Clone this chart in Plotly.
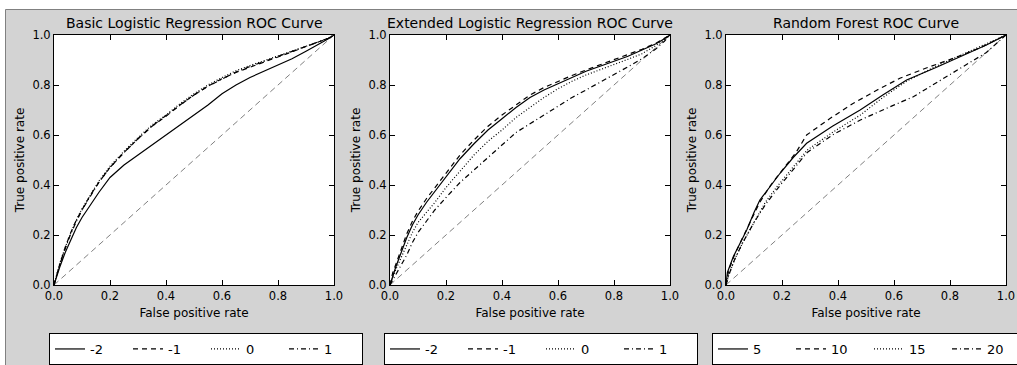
import plotly.graph_objects as go

# ---------------- data ----------------
titles = ["Basic Logistic Regression ROC Curve",
          "Extended Logistic Regression ROC Curve",
          "Random Forest ROC Curve"]
x_label = "False positive rate"
y_label = "True positive rate"
tick_vals = [0.0, 0.2, 0.4, 0.6, 0.8, 1.0]

basic_labels = ["-2", "-1", "0", "1"]
basic_fpr = [0, 0.01, 0.02, 0.04, 0.06, 0.08, 0.10, 0.13, 0.16, 0.20, 0.25, 0.30, 0.35,
             0.40, 0.45, 0.50, 0.55, 0.60, 0.65, 0.70, 0.75, 0.80, 0.85, 0.90, 0.95, 0.98, 1.0]
basic_tpr_m2 = [0, 0.04, 0.07, 0.13, 0.18, 0.23, 0.27, 0.32, 0.37, 0.43, 0.48, 0.52, 0.56,
                0.60, 0.64, 0.68, 0.72, 0.765, 0.80, 0.83, 0.855, 0.88, 0.905, 0.935, 0.965, 0.985, 1.0]
basic_tpr_m1 = [0, 0.045, 0.08, 0.15, 0.21, 0.26, 0.30, 0.36, 0.41, 0.47, 0.53, 0.585, 0.635,
                0.675, 0.72, 0.76, 0.795, 0.825, 0.85, 0.872, 0.892, 0.912, 0.932, 0.953, 0.973, 0.987, 1.0]
basic_tpr_0 = [0, 0.045, 0.085, 0.15, 0.21, 0.26, 0.305, 0.36, 0.415, 0.475, 0.535, 0.59, 0.64,
               0.68, 0.725, 0.765, 0.80, 0.83, 0.857, 0.878, 0.897, 0.916, 0.935, 0.955, 0.974, 0.988, 1.0]
basic_tpr_1 = [0, 0.04, 0.08, 0.145, 0.205, 0.255, 0.30, 0.355, 0.41, 0.47, 0.53, 0.585, 0.635,
               0.678, 0.72, 0.76, 0.795, 0.825, 0.852, 0.874, 0.894, 0.913, 0.933, 0.953, 0.973, 0.987, 1.0]

ext_labels = ["-2", "-1", "0", "1"]
ext_fpr = [0, 0.01, 0.02, 0.04, 0.06, 0.08, 0.10, 0.13, 0.16, 0.20, 0.25, 0.30, 0.35,
           0.40, 0.45, 0.50, 0.55, 0.60, 0.65, 0.70, 0.75, 0.80, 0.85, 0.90, 0.95, 0.98, 1.0]
ext_tpr_m2 = [0, 0.04, 0.07, 0.13, 0.19, 0.24, 0.28, 0.33, 0.375, 0.435, 0.505, 0.565, 0.62,
              0.665, 0.71, 0.75, 0.78, 0.805, 0.83, 0.855, 0.875, 0.895, 0.915, 0.94, 0.965, 0.985, 1.0]
ext_tpr_m1 = [0, 0.05, 0.08, 0.145, 0.205, 0.255, 0.295, 0.345, 0.39, 0.45, 0.52, 0.58, 0.635,
              0.68, 0.72, 0.76, 0.79, 0.815, 0.838, 0.86, 0.88, 0.90, 0.92, 0.943, 0.967, 0.986, 1.0]
ext_tpr_0 = [0, 0.03, 0.06, 0.11, 0.16, 0.21, 0.25, 0.29, 0.33, 0.39, 0.455, 0.52, 0.575,
             0.62, 0.67, 0.71, 0.75, 0.785, 0.815, 0.84, 0.86, 0.88, 0.903, 0.925, 0.958, 0.982, 1.0]
ext_tpr_1 = [0, 0.02, 0.04, 0.08, 0.12, 0.17, 0.21, 0.255, 0.30, 0.35, 0.41, 0.46, 0.51,
             0.56, 0.61, 0.645, 0.68, 0.715, 0.75, 0.78, 0.81, 0.84, 0.873, 0.905, 0.945, 0.975, 1.0]

rf_labels = ["5", "10", "15", "20"]
rf_fpr_5 = [0, 0.005, 0.026, 0.05, 0.074, 0.10, 0.121, 0.157, 0.193, 0.24, 0.288, 0.38,
            0.479, 0.56, 0.645, 0.75, 0.848, 0.93, 1.0]
rf_tpr_5 = [0, 0.05, 0.113, 0.17, 0.22, 0.29, 0.34, 0.393, 0.447, 0.51, 0.567, 0.635,
            0.70, 0.76, 0.82, 0.87, 0.92, 0.96, 1.0]
rf_fpr_10 = [0, 0.01, 0.03, 0.06, 0.09, 0.12, 0.16, 0.20, 0.25, 0.288, 0.37, 0.455,
             0.54, 0.621, 0.72, 0.82, 0.91, 1.0]
rf_tpr_10 = [0, 0.06, 0.12, 0.19, 0.26, 0.33, 0.40, 0.46, 0.53, 0.60, 0.665, 0.727,
             0.78, 0.827, 0.87, 0.91, 0.95, 1.0]
rf_fpr_15 = [0, 0.01, 0.03, 0.06, 0.10, 0.14, 0.18, 0.23, 0.29, 0.38, 0.48, 0.56,
             0.645, 0.75, 0.848, 0.93, 1.0]
rf_tpr_15 = [0, 0.04, 0.10, 0.17, 0.25, 0.33, 0.39, 0.46, 0.54, 0.61, 0.68, 0.75,
             0.815, 0.875, 0.925, 0.965, 1.0]
rf_fpr_20 = [0, 0.01, 0.03, 0.06, 0.10, 0.14, 0.18, 0.23, 0.29, 0.38, 0.48, 0.58,
             0.669, 0.76, 0.848, 0.93, 1.0]
rf_tpr_20 = [0, 0.04, 0.10, 0.17, 0.25, 0.32, 0.38, 0.45, 0.53, 0.60, 0.66, 0.71,
             0.753, 0.815, 0.873, 0.93, 1.0]

diag_x = [0, 1]
diag_y = [0, 1]

# ---------------- figure ----------------
W, H = 1017, 365
BG = "#d3d3d3"
dashes = ["solid", "5px,4px", "1px,2px", "5px,3px,1px,3px"]
FONT = "DejaVu Sans"

panels = [
    (basic_labels, [(basic_fpr, basic_tpr_m2), (basic_fpr, basic_tpr_m1),
                    (basic_fpr, basic_tpr_0), (basic_fpr, basic_tpr_1)]),
    (ext_labels, [(ext_fpr, ext_tpr_m2), (ext_fpr, ext_tpr_m1),
                  (ext_fpr, ext_tpr_0), (ext_fpr, ext_tpr_1)]),
    (rf_labels, [(rf_fpr_5, rf_tpr_5), (rf_fpr_10, rf_tpr_10),
                 (rf_fpr_15, rf_tpr_15), (rf_fpr_20, rf_tpr_20)]),
]

x_left_px = [54, 390, 726]
plot_w = 280
y_top_px, y_bot_px = 35, 285
legend_left_px = [49, 384, 712]

fig = go.Figure()
layout = dict(
    width=W, height=H, autosize=False,
    margin=dict(l=0, r=0, t=0, b=0, pad=0, autoexpand=False),
    paper_bgcolor="white", plot_bgcolor="rgba(0,0,0,0)",
    font=dict(family=FONT, size=11, color="black"),
    showlegend=True,
)

shapes = [
    # grey figure background with its frame (top and left edges visible)
    dict(type="rect", xref="paper", yref="paper", x0=5.5 / W, x1=1 + 5 / W,
         y0=-5 / H, y1=1 - 9.5 / H,
         fillcolor=BG, line=dict(color="#808080", width=1), layer="below"),
]
annotations = []
for i, (labels, series) in enumerate(panels):
    sfx = "" if i == 0 else str(i + 1)
    xa, ya = "x" + sfx, "y" + sfx
    leg = "legend" + sfx
    fig.add_trace(go.Scatter(x=diag_x, y=diag_y, mode="lines", xaxis=xa, yaxis=ya,
                             line=dict(color="#808080", width=1, dash="6px,4px"),
                             showlegend=False, hoverinfo="skip"))
    for j, (fx, ty) in enumerate(series):
        fig.add_trace(go.Scatter(x=fx, y=ty, mode="lines", name=labels[j],
                                 xaxis=xa, yaxis=ya, legend=leg,
                                 line=dict(color="black", width=1.2, dash=dashes[j])))
    x0 = x_left_px[i] / W
    x1 = (x_left_px[i] + plot_w) / W
    common = dict(range=[0, 1], tickvals=tick_vals, tickformat=".1f",
                  ticks="inside", ticklen=5, tickcolor="black", tickwidth=1,
                  showline=True, linecolor="black", linewidth=1, mirror="ticks",
                  showgrid=False, zeroline=False, automargin=False, fixedrange=True,
                  tickfont=dict(size=11.5, family=FONT))
    layout["xaxis" + sfx] = dict(domain=[x0, x1], anchor=ya,
                                 title=dict(text=x_label, font=dict(size=12, family=FONT), standoff=6),
                                 **common)
    layout["yaxis" + sfx] = dict(domain=[1 - y_bot_px / H, 1 - y_top_px / H], anchor=xa,
                                 title=dict(text=y_label, font=dict(size=12, family=FONT), standoff=5),
                                 **common)
    layout[leg] = dict(orientation="h", x=legend_left_px[i] / W, xanchor="left",
                       y=1 - 333 / H, yanchor="top", bgcolor="white",
                       bordercolor="black", borderwidth=1,
                       font=dict(size=13, family=FONT),
                       entrywidth=33, entrywidthmode="pixels", itemwidth=30)
    annotations.append(dict(text=titles[i], xref="paper", yref="paper",
                            x=(x0 + x1) / 2, y=1 - 23 / H, xanchor="center", yanchor="middle",
                            showarrow=False, font=dict(size=14, family=FONT)))
    # white plotting area
    shapes.append(dict(type="rect", xref=xa + " domain", yref=ya + " domain",
                       x0=0, x1=1, y0=0, y1=1, fillcolor="white",
                       line=dict(width=0), layer="below"))

layout["annotations"] = annotations
layout["shapes"] = shapes
fig.update_layout(**layout)
fig.write_html("out.html")
